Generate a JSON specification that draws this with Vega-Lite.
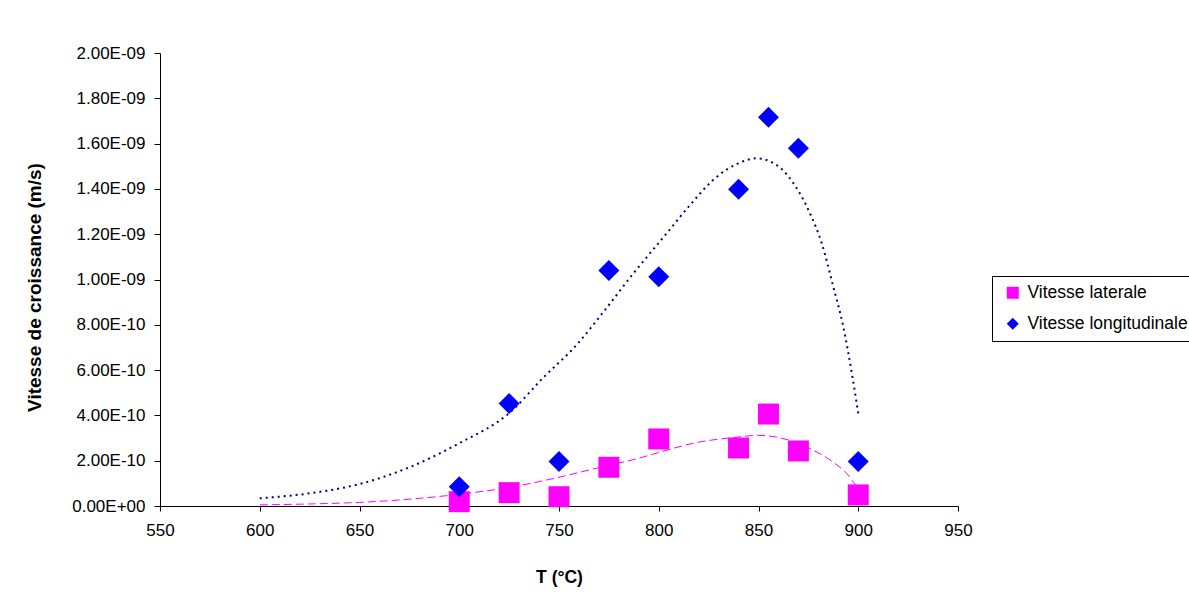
{
  "$schema": "https://vega.github.io/schema/vega-lite/v6.json",
  "width": 798,
  "height": 453,
  "autosize": {"type": "none"},
  "padding": {"left": 160, "top": 53, "right": 231, "bottom": 91},
  "background": "white",
  "datasets": {
    "points": [
      {"T": 700, "v": 1.9e-11, "serie": "Vitesse laterale"},
      {"T": 725, "v": 5.9e-11, "serie": "Vitesse laterale"},
      {"T": 750, "v": 4.1e-11, "serie": "Vitesse laterale"},
      {"T": 775, "v": 1.71e-10, "serie": "Vitesse laterale"},
      {"T": 800, "v": 2.96e-10, "serie": "Vitesse laterale"},
      {"T": 840, "v": 2.56e-10, "serie": "Vitesse laterale"},
      {"T": 855, "v": 4.06e-10, "serie": "Vitesse laterale"},
      {"T": 870, "v": 2.43e-10, "serie": "Vitesse laterale"},
      {"T": 900, "v": 4.9e-11, "serie": "Vitesse laterale"},
      {"T": 700, "v": 8.5e-11, "serie": "Vitesse longitudinale"},
      {"T": 725, "v": 4.53e-10, "serie": "Vitesse longitudinale"},
      {"T": 750, "v": 1.96e-10, "serie": "Vitesse longitudinale"},
      {"T": 775, "v": 1.04e-9, "serie": "Vitesse longitudinale"},
      {"T": 800, "v": 1.012e-9, "serie": "Vitesse longitudinale"},
      {"T": 840, "v": 1.398e-9, "serie": "Vitesse longitudinale"},
      {"T": 855, "v": 1.716e-9, "serie": "Vitesse longitudinale"},
      {"T": 870, "v": 1.579e-9, "serie": "Vitesse longitudinale"},
      {"T": 900, "v": 1.96e-10, "serie": "Vitesse longitudinale"}
    ],
    "trendLong": [
      {"T": 600, "v": 3.4e-11},
      {"T": 625, "v": 5.6e-11},
      {"T": 650, "v": 9.7e-11},
      {"T": 675, "v": 1.71e-10},
      {"T": 700, "v": 2.77e-10},
      {"T": 725, "v": 4.1e-10},
      {"T": 742.6, "v": 5.71e-10},
      {"T": 758.8, "v": 7.11e-10},
      {"T": 773, "v": 8.65e-10},
      {"T": 787.3, "v": 1.027e-9},
      {"T": 804, "v": 1.204e-9},
      {"T": 815.7, "v": 1.329e-9},
      {"T": 828.2, "v": 1.447e-9},
      {"T": 839.9, "v": 1.513e-9},
      {"T": 849, "v": 1.535e-9},
      {"T": 859, "v": 1.506e-9},
      {"T": 867.5, "v": 1.425e-9},
      {"T": 875.8, "v": 1.292e-9},
      {"T": 881.7, "v": 1.16e-9},
      {"T": 887.5, "v": 9.68e-10},
      {"T": 892.5, "v": 7.92e-10},
      {"T": 897.2, "v": 5.64e-10},
      {"T": 900, "v": 4.09e-10}
    ],
    "trendLat": [
      {"T": 600, "v": 5e-12},
      {"T": 625, "v": 9e-12},
      {"T": 650, "v": 1.6e-11},
      {"T": 675, "v": 3e-11},
      {"T": 700, "v": 5.2e-11},
      {"T": 725, "v": 8.2e-11},
      {"T": 750, "v": 1.27e-10},
      {"T": 760, "v": 1.48e-10},
      {"T": 775, "v": 1.8e-10},
      {"T": 789.7, "v": 2.1e-10},
      {"T": 799.5, "v": 2.35e-10},
      {"T": 818.9, "v": 2.8e-10},
      {"T": 838.3, "v": 3.03e-10},
      {"T": 850, "v": 3.12e-10},
      {"T": 861.7, "v": 2.99e-10},
      {"T": 877.3, "v": 2.47e-10},
      {"T": 887, "v": 1.96e-10},
      {"T": 894.9, "v": 1.37e-10},
      {"T": 898.7, "v": 9.3e-11},
      {"T": 900, "v": 8.2e-11}
    ]
  },
  "encoding": {
    "x": {
      "field": "T", "type": "quantitative",
      "scale": {"domain": [550, 950], "nice": false, "zero": false},
      "axis": {
        "title": "T (°C)",
        "values": [550, 600, 650, 700, 750, 800, 850, 900, 950],
        "tickSize": 5, "labelPadding": 11, "titlePadding": 30, "labelFlush": false
      }
    },
    "y": {
      "field": "v", "type": "quantitative",
      "scale": {"domain": [0, 2e-9], "nice": false},
      "axis": {
        "title": "Vitesse de croissance (m/s)",
        "values": [0, 2e-10, 4e-10, 6e-10, 8e-10, 1e-9, 1.2e-9, 1.4e-9, 1.6e-9, 1.8e-9, 2e-9],
        "labelExpr": "datum.value == 0 ? '0.00E+00' : replace(replace(format(datum.value, '.2e'), 'e-', 'E-0'), 'E-010', 'E-10')",
        "tickSize": 6, "labelPadding": 9, "titlePadding": 27, "titleFontSize": 19, "titleY": 234, "labelFlush": false
      }
    }
  },
  "layer": [
    {
      "data": {"name": "trendLat"},
      "mark": {"type": "line", "color": "#FF00FF", "strokeWidth": 1, "strokeDash": [8, 4], "interpolate": "monotone"}
    },
    {
      "data": {"name": "trendLong"},
      "mark": {"type": "line", "color": "#000080", "strokeWidth": 2, "strokeDash": [2, 4], "interpolate": "monotone"}
    },
    {
      "data": {"name": "points"},
      "mark": {"type": "point", "filled": true, "opacity": 1, "size": 440, "strokeWidth": 0},
      "encoding": {
        "color": {
          "field": "serie", "type": "nominal",
          "scale": {"domain": ["Vitesse laterale", "Vitesse longitudinale"], "range": ["#FF00FF", "#0000FF"]},
          "legend": {
            "title": null, "orient": "none", "legendX": 832, "legendY": 223,
            "strokeColor": "black", "padding": 8, "symbolOffset": 4, "labelOffset": 6,
            "rowPadding": 12, "labelFont": "Liberation Sans", "labelFontSize": 17.5,
            "labelColor": "black", "symbolSize": 144, "symbolStrokeWidth": 0, "labelLimit": 400
          }
        },
        "shape": {
          "field": "serie", "type": "nominal",
          "scale": {"domain": ["Vitesse laterale", "Vitesse longitudinale"], "range": ["square", "diamond"]},
          "legend": {
            "title": null, "orient": "none", "legendX": 832, "legendY": 223,
            "strokeColor": "black", "padding": 8, "symbolOffset": 4, "labelOffset": 6,
            "rowPadding": 12, "labelFont": "Liberation Sans", "labelFontSize": 17.5,
            "labelColor": "black", "symbolSize": 144, "symbolStrokeWidth": 0, "labelLimit": 400
          }
        }
      }
    }
  ],
  "config": {
    "view": {"stroke": null},
    "axis": {
      "grid": false,
      "labelFont": "Liberation Sans", "labelFontSize": 17, "labelColor": "black",
      "titleFont": "Liberation Sans", "titleFontSize": 17.5, "titleFontWeight": "bold", "titleColor": "black",
      "domainColor": "black", "tickColor": "black", "domainWidth": 1, "tickWidth": 1
    }
  }
}
